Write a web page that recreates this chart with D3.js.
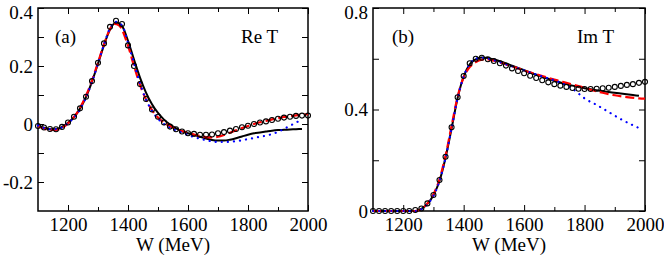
<!DOCTYPE html>
<html>
<head>
<meta charset="utf-8">
<script src="https://cdn.jsdelivr.net/npm/d3@7"></script>
<style>
  body { margin: 0; background: #fff; }
  svg { display: block; }
  .axis text { font-family: "Liberation Serif", "Times New Roman", Times, serif; font-size: 19px; fill: #000; }
  .axis line { stroke: #000; stroke-width: 1; }
  .axis path { display: none; }
  .lbl { font-family: "Liberation Serif", "Times New Roman", Times, serif; font-size: 19px; fill: #000; }
</style>
</head>
<body>
<div id="chart"></div>
<script>
const width = 664;
const height = 257;

// circle points, every 20 MeV
const circleW = [1100, 1120, 1140, 1160, 1180, 1200, 1220, 1240, 1260, 1280, 1300, 1320, 1340, 1360, 1380,
                 1400, 1420, 1440, 1460, 1480, 1500, 1520, 1540, 1560, 1580, 1600, 1620, 1640, 1660, 1680,
                 1700, 1720, 1740, 1760, 1780, 1800, 1820, 1840, 1860, 1880, 1900, 1920, 1940, 1960, 1980, 2000];
const reCircles = [-0.007, -0.012, -0.017, -0.018, -0.010, 0.005, 0.025, 0.054, 0.094, 0.148, 0.211, 0.278, 0.335, 0.356, 0.345,
                   0.271, 0.200, 0.138, 0.086, 0.050, 0.025, 0.005, -0.009, -0.018, -0.026, -0.032, -0.034, -0.037, -0.037, -0.036,
                   -0.032, -0.028, -0.023, -0.017, -0.011, -0.006, 0.000, 0.005, 0.009, 0.014, 0.018, 0.022, 0.025, 0.028, 0.029, 0.029];
const imCircles = [0, 0, 0, 0, 0, 0, 0, 0.004, 0.010, 0.030, 0.063, 0.122, 0.214, 0.330, 0.448,
                   0.532, 0.582, 0.600, 0.604, 0.598, 0.591, 0.582, 0.573, 0.562, 0.552, 0.543, 0.533, 0.524, 0.515, 0.507,
                   0.500, 0.494, 0.489, 0.485, 0.482, 0.481, 0.481, 0.482, 0.484, 0.486, 0.489, 0.493, 0.497, 0.500, 0.505, 0.509];

// curves: [W, value]
const reSolid = [[1100,-0.007],[1120,-0.013],[1140,-0.018],[1160,-0.018],[1180,-0.010],[1200,0.004],[1220,0.024],[1240,0.053],
  [1260,0.093],[1280,0.146],[1300,0.208],[1320,0.272],[1340,0.326],[1360,0.350],[1380,0.338],[1400,0.287],[1420,0.222],
  [1440,0.160],[1460,0.108],[1480,0.068],[1500,0.038],[1520,0.015],[1540,-0.002],[1560,-0.015],[1580,-0.025],[1600,-0.032],
  [1620,-0.038],[1640,-0.044],[1660,-0.050],[1680,-0.055],[1700,-0.057],[1720,-0.057],[1740,-0.054],[1760,-0.049],
  [1780,-0.043],[1800,-0.037],[1820,-0.032],[1840,-0.029],[1860,-0.026],[1880,-0.023],[1900,-0.021],[1920,-0.020],
  [1940,-0.019],[1960,-0.018],[1980,-0.017]];
const reDashed = [[1100,-0.008],[1140,-0.020],[1160,-0.020],[1200,0.002],[1240,0.055],[1280,0.150],[1300,0.212],[1320,0.275],
  [1340,0.327],[1355,0.345],[1370,0.340],[1400,0.270],[1420,0.200],[1440,0.135],[1460,0.085],[1480,0.048],[1500,0.022],
  [1520,0.005],[1540,-0.008],[1560,-0.017],[1580,-0.024],[1600,-0.030],[1620,-0.036],[1640,-0.041],[1660,-0.045],
  [1680,-0.046],[1700,-0.044],[1720,-0.038],[1740,-0.030],[1760,-0.022],[1780,-0.014],[1800,-0.007],[1820,0.000],
  [1840,0.006],[1860,0.011],[1880,0.016],[1900,0.020],[1920,0.024],[1940,0.027],[1960,0.030],[1980,0.032],[2000,0.034]];
const reDotted = [[1100,-0.005],[1140,-0.018],[1160,-0.018],[1200,0.003],[1240,0.050],[1280,0.145],[1300,0.208],[1320,0.274],
  [1340,0.330],[1360,0.352],[1380,0.340],[1400,0.280],[1420,0.210],[1440,0.140],[1460,0.085],[1480,0.045],[1500,0.018],
  [1520,0.000],[1540,-0.013],[1560,-0.022],[1580,-0.030],[1600,-0.038],[1620,-0.045],[1640,-0.051],[1660,-0.056],
  [1680,-0.060],[1700,-0.062],[1720,-0.062],[1740,-0.061],[1760,-0.059],[1780,-0.056],[1800,-0.052],[1820,-0.048],
  [1840,-0.044],[1860,-0.040],[1880,-0.035],[1900,-0.027],[1920,-0.017],[1940,-0.006],[1960,0.005],[1980,0.014]];

const imSolid = [[1100,0],[1240,0],[1260,0.008],[1280,0.028],[1300,0.062],[1320,0.118],[1340,0.210],[1360,0.325],[1380,0.445],
  [1400,0.530],[1420,0.578],[1440,0.598],[1460,0.605],[1480,0.603],[1500,0.597],[1520,0.590],[1540,0.582],[1560,0.573],
  [1580,0.564],[1600,0.555],[1620,0.546],[1640,0.537],[1660,0.529],[1680,0.521],[1700,0.514],[1720,0.507],[1740,0.500],
  [1760,0.494],[1780,0.489],[1800,0.484],[1840,0.476],[1880,0.469],[1920,0.463],[1960,0.457],[1980,0.454]];
const imDashed = [[1100,0],[1240,0],[1260,0.008],[1280,0.030],[1300,0.066],[1320,0.125],[1340,0.218],[1360,0.335],[1380,0.450],
  [1400,0.527],[1420,0.567],[1440,0.587],[1460,0.596],[1480,0.597],[1500,0.592],[1540,0.578],[1580,0.562],[1620,0.546],
  [1660,0.532],[1700,0.518],[1740,0.505],[1780,0.492],[1820,0.478],[1860,0.466],[1900,0.456],[1940,0.449],[1980,0.444],[2000,0.443]];
const imDotted = [[1100,0],[1240,0],[1260,0.007],[1280,0.027],[1300,0.060],[1320,0.118],[1340,0.210],[1360,0.325],[1380,0.445],
  [1400,0.530],[1420,0.580],[1440,0.600],[1460,0.604],[1480,0.601],[1500,0.594],[1540,0.578],[1580,0.562],[1620,0.546],
  [1660,0.530],[1700,0.515],[1740,0.495],[1760,0.482],[1780,0.463],[1800,0.444],[1840,0.418],[1880,0.390],[1920,0.362],
  [1960,0.338],[1980,0.327]];

const xTicksMajor = [1200, 1400, 1600, 1800, 2000];
const xTicksMinor = [1300, 1500, 1700, 1900];
const reYTicks = [-0.2, -0.1, 0, 0.1, 0.2, 0.3, 0.4];
const reYLabels = [-0.2, 0, 0.2, 0.4];
const imYTicks = [0, 0.2, 0.4, 0.6, 0.8];
const imYLabels = [0, 0.4, 0.8];

const svg = d3.select("#chart").append("svg")
    .attr("width", width)
    .attr("height", height);

function fmt(d) {
    return d === 0 ? "0" : d.toFixed(1);
}

function panel(opt) {
    const x = d3.scaleLinear().domain([1100, 2000]).range([opt.left, opt.right]);
    const y = d3.scaleLinear().domain(opt.yDomain).range([opt.bottom, opt.top]);
    const g = svg.append("g");

    // ticks on all four sides, pointing inward
    g.append("g").attr("class", "axis").attr("transform", `translate(0,${opt.bottom})`)
        .call(d3.axisBottom(x).tickValues(xTicksMajor).tickSize(-6).tickPadding(7).tickFormat(d => String(d)));
    g.append("g").attr("class", "axis").attr("transform", `translate(0,${opt.bottom})`)
        .call(d3.axisBottom(x).tickValues(xTicksMinor).tickSize(-4).tickFormat(""));
    g.append("g").attr("class", "axis").attr("transform", `translate(0,${opt.top})`)
        .call(d3.axisTop(x).tickValues(xTicksMajor).tickSize(-6).tickFormat(""));
    g.append("g").attr("class", "axis").attr("transform", `translate(0,${opt.top})`)
        .call(d3.axisTop(x).tickValues(xTicksMinor).tickSize(-4).tickFormat(""));

    const yTop = opt.yDomain[1];
    g.append("g").attr("class", "axis").attr("transform", `translate(${opt.left},0)`)
        .call(d3.axisLeft(y).tickValues(opt.yTicks).tickSize(-6).tickPadding(5)
            .tickFormat(d => opt.yLabels.some(v => Math.abs(v - d) < 1e-9) ? fmt(d) : ""))
        .selectAll("text")
        .filter(d => Math.abs(d - yTop) < 1e-9)
        .attr("dy", "0.55em");   // keep the top label inside the window
    g.append("g").attr("class", "axis").attr("transform", `translate(${opt.right},0)`)
        .call(d3.axisRight(y).tickValues(opt.yTicks).tickSize(-6).tickFormat(""));

    g.append("rect")
        .attr("x", opt.left).attr("y", opt.top)
        .attr("width", opt.right - opt.left).attr("height", opt.bottom - opt.top)
        .attr("fill", "none").attr("stroke", "#000").attr("stroke-width", 1.5);

    const line = d3.line().x(d => x(d[0])).y(d => y(d[1])).curve(d3.curveMonotoneX);

    g.append("path").datum(opt.solid).attr("d", line)
        .attr("fill", "none").attr("stroke", "#000").attr("stroke-width", 2);
    g.append("path").datum(opt.dashed).attr("d", line)
        .attr("fill", "none").attr("stroke", "#ff0000").attr("stroke-width", 2.2)
        .attr("stroke-dasharray", "9,4");
    g.append("path").datum(opt.dotted).attr("d", line)
        .attr("fill", "none").attr("stroke", "#0000ff").attr("stroke-width", 2.2)
        .attr("stroke-linecap", "round").attr("stroke-dasharray", "0.1,6");

    g.selectAll("circle.pt")
        .data(opt.circles)
        .enter()
        .append("circle")
        .attr("class", "pt")
        .attr("cx", (d, i) => x(circleW[i]))
        .attr("cy", d => y(d))
        .attr("r", 2.5)
        .attr("fill", "none")
        .attr("stroke", "#000")
        .attr("stroke-width", 1.1);

    g.append("text").attr("class", "lbl")
        .attr("x", (opt.left + opt.right) / 2).attr("y", 251)
        .attr("text-anchor", "middle").text("W (MeV)");
    g.append("text").attr("class", "lbl")
        .attr("x", opt.left + opt.tagDx).attr("y", 43).text(opt.tag);
    g.append("text").attr("class", "lbl")
        .attr("x", opt.nameX).attr("y", 43).text(opt.name);
}

panel({
    left: 38, right: 308, top: 8, bottom: 211,
    yDomain: [-0.3, 0.4], yTicks: reYTicks, yLabels: reYLabels,
    solid: reSolid, dashed: reDashed, dotted: reDotted, circles: reCircles,
    tag: "(a)", tagDx: 17, name: "Re T", nameX: 241
});

panel({
    left: 373, right: 645, top: 8, bottom: 211,
    yDomain: [0, 0.8], yTicks: imYTicks, yLabels: imYLabels,
    solid: imSolid, dashed: imDashed, dotted: imDotted, circles: imCircles,
    tag: "(b)", tagDx: 19, name: "Im T", nameX: 577
});
</script>
</body>
</html>
